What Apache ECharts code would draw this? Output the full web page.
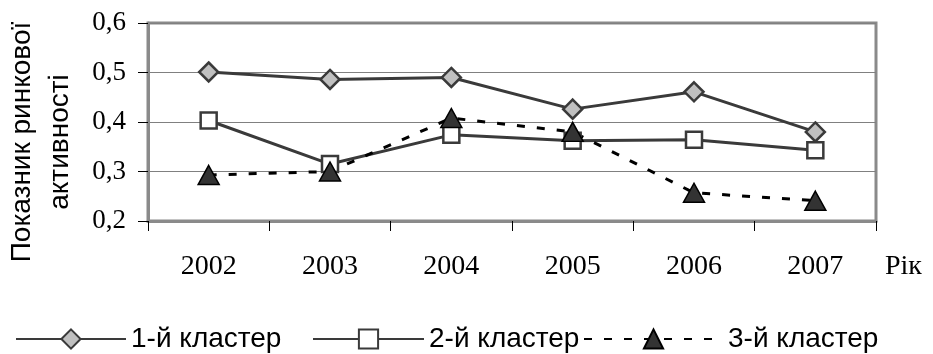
<!DOCTYPE html>
<html><head><meta charset="utf-8">
<script src="https://cdn.jsdelivr.net/npm/echarts@6/dist/echarts.min.js"></script>
<style>html,body{margin:0;padding:0;background:#fff}#c{width:933px;height:354px}</style>
</head><body><div id="c"></div>
<script>
const categories = ['2002','2003','2004','2005','2006','2007'];
const cluster1 = [0.501, 0.486, 0.490, 0.426, 0.461, 0.380];
const cluster2 = [0.403, 0.315, 0.374, 0.362, 0.364, 0.343];
const cluster3 = [0.293, 0.300, 0.408, 0.380, 0.257, 0.241];
const seriesNames = ['1-й кластер','2-й кластер','3-й кластер'];
const yTicks = [0.2, 0.3, 0.4, 0.5, 0.6];
const yName = 'Показник ринкової\nактивності';
const xName = 'Рік';

const serif = '"Liberation Serif","Times New Roman",serif';
const sans = '"Liberation Sans",Arial,sans-serif';
const legendBase = {top:320, itemHeight:24, itemGap:0,
  textStyle:{fontFamily:sans, fontSize:28, color:'#000', padding:[0,0,0,0]}};
const chart = echarts.init(document.getElementById('c'), null, {renderer:'canvas'});
chart.setOption({
  animation:false,
  grid:{left:148, right:57, top:23, bottom:133, show:true, borderColor:'#8a8a8a', borderWidth:3, backgroundColor:'transparent'},
  legend:[
    Object.assign({}, legendBase, {left:10, itemWidth:110, data:[seriesNames[0]]}),
    Object.assign({}, legendBase, {left:307, itemWidth:111, data:[seriesNames[1]]}),
    Object.assign({}, legendBase, {left:578, itemWidth:139, data:[seriesNames[2]]})
  ],
  xAxis:{
    type:'category', data:categories, boundaryGap:true,
    axisLine:{lineStyle:{color:'#8a8a8a', width:3}},
    axisTick:{show:true, length:10, lineStyle:{color:'#000', width:1}},
    axisLabel:{fontFamily:serif, fontSize:28, color:'#000', margin:32}
  },
  yAxis:{
    type:'value', min:yTicks[0], max:yTicks[yTicks.length-1], interval:0.1,
    axisLine:{show:true, lineStyle:{color:'#8a8a8a', width:3}},
    axisTick:{show:true, length:10, lineStyle:{color:'#000', width:1}},
    axisLabel:{fontFamily:serif, fontSize:27, color:'#000', margin:22,
      formatter:v=>v.toFixed(1).replace('.',',')},
    splitLine:{lineStyle:{color:'#808080', width:1}}
  },
  graphic:[
    {type:'text', x:41, y:142, rotation:Math.PI/2,
     style:{text:yName, fontFamily:sans, fontSize:28, lineHeight:38, align:'center', verticalAlign:'middle', fill:'#000'}},
    {type:'text', x:885, y:267,
     style:{text:xName, fontFamily:serif, fontSize:28, align:'left', verticalAlign:'middle', fill:'#000'}}
  ],
  series:[
    {name:seriesNames[0], type:'line', data:cluster1, symbol:'diamond', symbolSize:[19,19],
     lineStyle:{color:'#3a3a3a', width:3}, itemStyle:{color:'#c0c0c0', borderColor:'#3a3a3a', borderWidth:2.5}},
    {name:seriesNames[1], type:'line', data:cluster2, symbol:'rect', symbolSize:[16,16],
     lineStyle:{color:'#3a3a3a', width:3}, itemStyle:{color:'#ffffff', borderColor:'#3a3a3a', borderWidth:2.5}},
    {name:seriesNames[2], type:'line', data:cluster3, symbol:'triangle', symbolSize:[21,19],
     lineStyle:{color:'#000', width:3, type:[8,12]}, itemStyle:{color:'#333333', borderColor:'#000', borderWidth:1.5}}
  ]
});
</script></body></html>
